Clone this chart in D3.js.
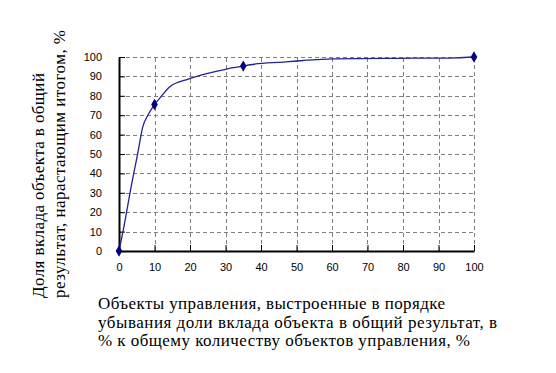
<!DOCTYPE html>
<html>
  <head>
    <meta charset="utf-8">
    <script src="https://d3js.org/d3.v7.min.js"></script>
    <style>
    body { margin: 0; background: #fff; }
    .tick text { font-family: "Liberation Sans", Arial, sans-serif; font-size: 11px; fill: #000; }
    .title { font-family: "Liberation Serif", "Times New Roman", serif; font-size: 17px; fill: #000; }
    </style>
  </head>
  <body>
    <script>
    // curve of cumulative share
    var curveX = [0, 1.2, 3.6, 5.2, 6.7, 8.2, 10, 11.5, 14.4, 19.5, 24.7, 30.3, 35, 36.9, 46.3, 51.9, 60.4, 78.2, 95.1, 100];
    var curveY = [0, 10.8, 34.9, 49.6, 64, 70.2, 75.5, 78.8, 84.8, 88.6, 91.4, 93.8, 95.3, 96, 97.4, 98.2, 99, 99.3, 99.6, 100];
    // marked points
    var markX = [0, 10, 35, 100];
    var markY = [0, 75.5, 95.3, 100];
    var xTicks = [0, 10, 20, 30, 40, 50, 60, 70, 80, 90, 100];
    var yTicks = [0, 10, 20, 30, 40, 50, 60, 70, 80, 90, 100];

    var yTitle = ["Доля вклада объекта в общий", "результат, нарастающим итогом, %"];
    var xTitle = ["Объекты управления, выстроенные в порядке",
                  "убывания доли вклада объекта в общий результат, в",
                  "% к общему количеству объектов управления, %"];
    // measured widths of the title lines in the picture
    var yTitleLen = [225, 268];
    var xTitleLen = [347, 399, 372];

    var margin = {top: 57, right: 82, bottom: 122, left: 119};
    var width = 556 - margin.left - margin.right;
    var height = 373 - margin.top - margin.bottom;

    var x = d3.scaleLinear().domain([0, 100]).range([0, width]);
    var y = d3.scaleLinear().domain([0, 100]).range([height, 0]);

    var svg = d3.select("body").append("svg")
        .attr("width", 556)
        .attr("height", 373);
    var g = svg.append("g")
        .attr("transform", "translate(" + margin.left + "," + margin.top + ")");

    // dashed grid built from short rects (dash 4, gap 3)
    var dash = 4, gap = 3;
    var grid = g.append("g").attr("fill", "#808080");
    yTicks.slice(1).forEach(function(d) {
      var yy = Math.round(y(d));
      d3.range(0, width, dash + gap).forEach(function(p) {
        grid.append("rect")
            .attr("x", p).attr("y", yy)
            .attr("width", Math.min(dash, width - p)).attr("height", 1);
      });
    });
    xTicks.slice(1).forEach(function(d) {
      var xx = Math.round(x(d));
      d3.range(0, height, dash + gap).forEach(function(p) {
        grid.append("rect")
            .attr("x", xx).attr("y", height - p - Math.min(dash, height - p))
            .attr("width", 1).attr("height", Math.min(dash, height - p));
      });
    });

    var xAxis = d3.axisBottom(x).tickValues(xTicks).tickSizeInner(-6).tickSizeOuter(0).tickPadding(12);
    var yAxis = d3.axisLeft(y).tickValues(yTicks).tickSizeInner(-6).tickSizeOuter(0).tickPadding(17);

    var gx = g.append("g")
        .attr("transform", "translate(0," + height + ")")
        .call(xAxis);
    var gy = g.append("g")
        .call(yAxis);
    [gx, gy].forEach(function(s) {
      s.select(".domain").attr("stroke", "#000").attr("stroke-width", 2);
      s.selectAll(".tick line").attr("stroke", "#000");
    });

    var pts = curveX.map(function(d, i) { return [d, curveY[i]]; });
    var line = d3.line()
        .x(function(d) { return x(d[0]); })
        .y(function(d) { return y(d[1]); })
        .curve(d3.curveMonotoneX);

    g.append("path")
        .datum(pts)
        .attr("d", line)
        .attr("fill", "none")
        .attr("stroke", "#23238f")
        .attr("stroke-width", 1.3);

    g.selectAll(".mark")
        .data(markX.map(function(d, i) { return [d, markY[i]]; }))
        .enter().append("path")
        .attr("d", d3.symbol().type(d3.symbolDiamond).size(38))
        .attr("transform", function(d) { return "translate(" + x(d[0]) + "," + y(d[1]) + ")"; })
        .attr("fill", "#000080");

    // y title
    yTitle.forEach(function(t, i) {
      svg.append("text")
          .attr("class", "title")
          .attr("transform", "translate(" + (44 + i * 21) + ",298) rotate(-90)")
          .attr("text-anchor", "start")
          .attr("textLength", yTitleLen[i])
          .attr("lengthAdjust", "spacing")
          .text(t);
    });

    // x title
    xTitle.forEach(function(t, i) {
      svg.append("text")
          .attr("class", "title")
          .attr("x", 98)
          .attr("y", 309 + i * 18.5)
          .attr("textLength", xTitleLen[i])
          .attr("lengthAdjust", "spacing")
          .text(t);
    });
    </script>
  </body>
</html>
